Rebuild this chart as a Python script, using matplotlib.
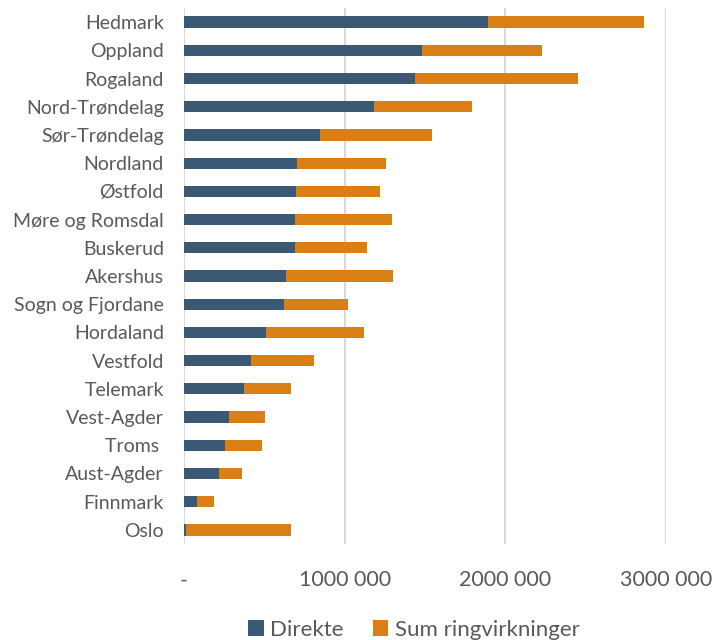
import numpy as np
import matplotlib
matplotlib.use("Agg")
import matplotlib.pyplot as plt
from matplotlib.ticker import FuncFormatter

fylker = ["Hedmark", "Oppland", "Rogaland", "Nord-Trøndelag", "Sør-Trøndelag",
          "Nordland", "Østfold", "Møre og Romsdal", "Buskerud", "Akershus",
          "Sogn og Fjordane", "Hordaland", "Vestfold", "Telemark", "Vest-Agder",
          "Troms ", "Aust-Agder", "Finnmark", "Oslo"]
direkte = [1894000, 1481000, 1438000, 1183000, 847000, 703000, 696000, 692000,
           690000, 634000, 623000, 511000, 416000, 373000, 278000, 256000,
           218000, 84000, 13000]
totalt = [2866000, 2231000, 2450000, 1795000, 1545000, 1256000, 1218000, 1293000,
          1138000, 1302000, 1022000, 1121000, 810000, 666000, 502000, 487000,
          362000, 188000, 666000]
ring = [t - d for t, d in zip(totalt, direkte)]
xticks = [0, 1000000, 2000000, 3000000]

plt.rcParams['font.family'] = ['Lato', 'DejaVu Sans']
grey = '#595959'

fig = plt.figure(figsize=(7.14, 6.4), dpi=100)
# plot area in pixels: x 184..666, y 8..544
ax = fig.add_axes([184/714, 1 - 544/640, (666-184)/714, (544-8)/640])

y = np.arange(len(fylker))
ax.barh(y, direkte, height=0.4, color='#3B5875', label='Direkte', zorder=3)
ax.barh(y, ring, left=direkte, height=0.4, color='#D97F16',
        label='Sum ringvirkninger', zorder=3)

ax.set_ylim(len(fylker) - 0.5, -0.5)
ax.set_xlim(0, 3000000)
ax.set_yticks(y)
ax.set_yticklabels(fylker)
ax.set_xticks(xticks)
ax.xaxis.set_major_formatter(FuncFormatter(
    lambda v, p: '-' if v == 0 else f"{int(v // 1000):d} 000"))

ax.tick_params(axis='both', length=0, colors=grey)
ax.tick_params(axis='y', labelsize=14, pad=14.5)
ax.tick_params(axis='x', labelsize=15.5, pad=19)
ax.grid(axis='x', color='#d9d9d9', linewidth=1.5, zorder=0)
for s in ax.spines.values():
    s.set_visible(False)

ax.legend(loc='center', bbox_to_anchor=(414/714, 1 - 630/640),
          bbox_transform=fig.transFigure, ncol=2, frameon=False,
          fontsize=16, labelcolor=grey, handlelength=0.7, handleheight=0.7,
          handletextpad=0.3, columnspacing=1.3)

fig.savefig("out.png", dpi=100)
